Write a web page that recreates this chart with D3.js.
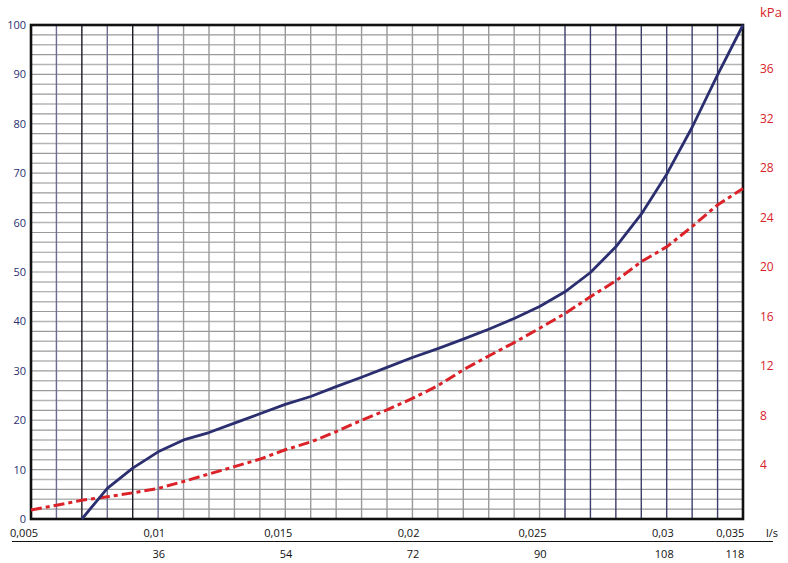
<!DOCTYPE html>
<html>
<head>
<meta charset="utf-8">
<script src="https://d3js.org/d3.v7.min.js"></script>
<style>
  html, body { margin: 0; padding: 0; background: #fff; }
  text { font-family: "Open Sans", "Noto Sans", sans-serif; }
</style>
</head>
<body>
<svg id="chart"></svg>
<script>
// flow in l/s, one grid step = 0.001
const flowGrid = d3.range(5, 34).map(d => d / 1000);

// blue curve (left axis, 0..100)
const blueFlow = [0.007, 0.008, 0.009, 0.010, 0.011, 0.012, 0.013, 0.014, 0.015, 0.016, 0.017, 0.018, 0.019, 0.020,
                  0.021, 0.022, 0.023, 0.024, 0.025, 0.026, 0.027, 0.028, 0.029, 0.030, 0.031, 0.032, 0.033];
const blueValues = [0, 6.2, 10.3, 13.6, 16.0, 17.5, 19.4, 21.3, 23.2, 24.8, 26.8, 28.7, 30.7, 32.7,
                    34.5, 36.4, 38.4, 40.6, 43.0, 46.0, 49.9, 55.1, 61.7, 69.8, 79.3, 89.9, 100];

// red dash-dot curve (right axis, kPa)
const redFlow = flowGrid;
const redKpa = [0.36, 0.75, 1.15, 1.43, 1.75, 2.11, 2.67, 3.27, 3.87, 4.47, 5.23, 5.86, 6.70, 7.62, 8.46,
                9.38, 10.41, 11.69, 12.81, 13.89, 15.05, 16.24, 17.60, 18.88, 20.43, 21.63, 23.27, 25.02, 26.34];

const leftTicks = [0, 10, 20, 30, 40, 50, 60, 70, 80, 90, 100];
const rightTicks = [4, 8, 12, 16, 20, 24, 28, 32, 36];
const lsTicks = [0.005, 0.01, 0.015, 0.02, 0.025, 0.03, 118 / 3600];
const lsLabels = ["0,005", "0,01", "0,015", "0,02", "0,025", "0,03", "0,035"];
const lhTicks = [36, 54, 72, 90, 108, 118];

const width = 788, height = 563;
const plotLeft = 31, plotRight = 743, plotTop = 25, plotBottom = 519;

const svg = d3.select("#chart").attr("width", width).attr("height", height);

const x = d3.scaleLinear().domain([0.005, 0.033]).range([plotLeft, plotRight]);
const y = d3.scaleLinear().domain([0, 100]).range([plotBottom, plotTop]);
const yR = d3.scaleLinear().domain([0, 40]).range([514.5, 19.5]);

// horizontal grid every 2 units
svg.append("g").selectAll("line")
    .data(d3.range(2, 100, 2))
    .enter().append("line")
    .attr("x1", plotLeft).attr("x2", plotRight)
    .attr("y1", d => y(d)).attr("y2", d => y(d))
    .attr("stroke", (d, i) => i % 2 ? "#b4b4b4" : "#9a9a9a")
    .attr("stroke-width", (d, i) => i % 2 ? 1.5 : 1.2);

// vertical grid, colour depends on the region
const vColor = i => {
    if (i === 2 || i === 4) return "#1c1c24";
    if (i < 6) return "#6c6c90";
    if (i > 20) return "#3e3e6c";
    return "#9a9a9a";
};
svg.append("g").selectAll("line")
    .data(flowGrid.slice(1, -1))
    .enter().append("line")
    .attr("x1", d => x(d)).attr("x2", d => x(d))
    .attr("y1", plotTop).attr("y2", plotBottom)
    .attr("stroke", (d, i) => vColor(i + 1))
    .attr("stroke-width", 1.4);

// frame
svg.append("rect")
    .attr("x", plotLeft).attr("y", plotTop)
    .attr("width", plotRight - plotLeft).attr("height", plotBottom - plotTop)
    .attr("fill", "none").attr("stroke", "#111").attr("stroke-width", 2.6);

// curves
const redLine = d3.line()
    .x((d, i) => x(redFlow[i]))
    .y(d => yR(d));
svg.append("path")
    .attr("d", redLine(redKpa))
    .attr("fill", "none")
    .attr("stroke", "#dc2229")
    .attr("stroke-width", 3)
    .attr("stroke-dasharray", "11,4,4,4");

const blueLine = d3.line()
    .x((d, i) => x(blueFlow[i]))
    .y(d => y(d));
svg.append("path")
    .attr("d", blueLine(blueValues))
    .attr("fill", "none")
    .attr("stroke", "#2b2f6f")
    .attr("stroke-width", 2.8)
    .attr("stroke-linejoin", "round");

// left axis labels
svg.append("g").selectAll("text")
    .data(leftTicks)
    .enter().append("text")
    .attr("x", 26).attr("y", d => y(d))
    .attr("dy", "0.36em")
    .attr("text-anchor", "end")
    .attr("font-size", 11)
    .attr("fill", "#2b2f6f")
    .text(d => d);

// right axis labels (kPa)
svg.append("g").selectAll("text")
    .data(rightTicks)
    .enter().append("text")
    .attr("x", 760).attr("y", d => yR(d))
    .attr("dy", "0.36em")
    .attr("font-size", 12)
    .attr("fill", "#d8232a")
    .text(d => d);
svg.append("text")
    .attr("x", 760).attr("y", 17)
    .attr("font-size", 13)
    .attr("fill", "#d8232a")
    .text("kPa");

// x labels, l/s
svg.append("g").selectAll("text")
    .data(lsTicks)
    .enter().append("text")
    .attr("x", d => x(d) + 7).attr("y", 537)
    .attr("text-anchor", "end")
    .attr("font-size", 11)
    .attr("fill", "#111")
    .text((d, i) => lsLabels[i]);
svg.append("text")
    .attr("x", 766).attr("y", 537)
    .attr("font-size", 11)
    .attr("fill", "#111")
    .text("l/s");

svg.append("line")
    .attr("x1", 12).attr("x2", 773)
    .attr("y1", 541.5).attr("y2", 541.5)
    .attr("stroke", "#111").attr("stroke-width", 1.2);

// x labels, l/h
svg.append("g").selectAll("text")
    .data(lhTicks)
    .enter().append("text")
    .attr("x", d => x(d / 3600) + 7).attr("y", 558)
    .attr("text-anchor", "end")
    .attr("font-size", 11)
    .attr("fill", "#111")
    .text(d => d);
</script>
</body>
</html>
